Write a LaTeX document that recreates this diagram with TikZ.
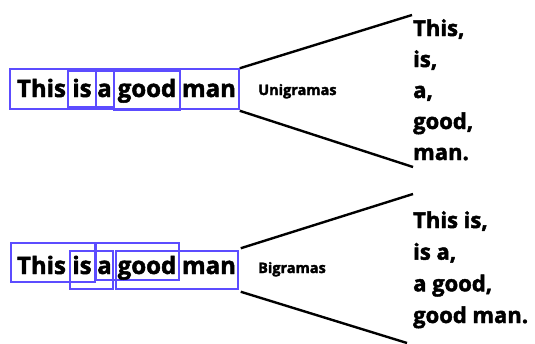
\documentclass[tikz,border=0pt]{standalone}
\usepackage{fontspec}
\setmainfont{Open Sans}[BoldFeatures={FakeBold=2}]
\definecolor{boxblue}{RGB}{92,76,255}
\begin{document}
\begin{tikzpicture}[x=1pt,y=-1pt,
  wbox/.style={draw=boxblue,line width=1.5pt,inner sep=0pt},
  word/.style={font=\fontsize{24}{28}\selectfont\bfseries,anchor=base,inner sep=0pt},
  lbl/.style={font=\fontsize{14.5}{17}\selectfont\bfseries,anchor=base west,inner sep=0pt},
  item/.style={font=\fontsize{22}{26}\selectfont\bfseries,anchor=base west,inner sep=0pt},
  conn/.style={line width=2.4pt,black}]
\useasboundingbox (0,0) rectangle (535,343);
% ---------- top sentence ----------
\node[wbox,minimum width=229pt,minimum height=40pt] (tall) at (124.5,89) {};
\node[wbox,minimum width=28pt,minimum height=36pt] (tis) at (82,89) {};
\node[wbox,minimum width=18pt,minimum height=36pt] (ta) at (105,89) {};
\node[wbox,minimum width=66pt,minimum height=39pt] (tgood) at (147,90.5) {};
\node[word] (w1) at (41.5,97) {This};
\node[word] (w2) at (82,97) {is};
\node[word] (w3) at (104.5,97) {a};
\node[word] (w4) at (147,97) {good};
\node[word] (w5) at (209,97) {man};
\node[lbl] (uni) at (258,95) {Unigramas};
\coordinate (tu) at (412,15);
\coordinate (td) at (413,167);
\draw[conn] (tall.north east) -- (tu);
\draw[conn] ([yshift=-1pt]tall.south east) -- (td);
\node[item] (u1) at (413,36) {This,};
\node[item] (u2) at (413,67) {is,};
\node[item] (u3) at (413,98) {a,};
\node[item] (u4) at (413,129) {good,};
\node[item] (u5) at (413,160) {man.};
% ---------- bottom sentence ----------
\node[wbox,minimum width=84pt,minimum height=39pt] (bA) at (53,262.5) {};
\node[wbox,minimum width=43pt,minimum height=38pt] (bB) at (91.5,270) {};
\node[wbox,minimum width=83pt,minimum height=37pt] (bC) at (137.5,261.5) {};
\node[wbox,minimum width=122pt,minimum height=38pt] (bD) at (177,270) {};
\node[word] (v1) at (41.5,274) {This};
\node[word] (v2) at (82,274) {is};
\node[word] (v3) at (104.5,274) {a};
\node[word] (v4) at (147,274) {good};
\node[word] (v5) at (209,274) {man};
\node[lbl] (bi) at (258,273) {Bigramas};
\coordinate (bu) at (413,194);
\coordinate (bd) at (407,343);
\draw[conn] ([shift={(2pt,2pt)}]bD.north east) -- (bu);
\draw[conn] ([shift={(2pt,-2pt)}]bD.south east) -- (bd);
\node[item] (g1) at (413,228) {This is,};
\node[item] (g2) at (413,259.7) {is a,};
\node[item] (g3) at (413,291.3) {a good,};
\node[item] (g4) at (413,323) {good man.};
\end{tikzpicture}
\end{document}
